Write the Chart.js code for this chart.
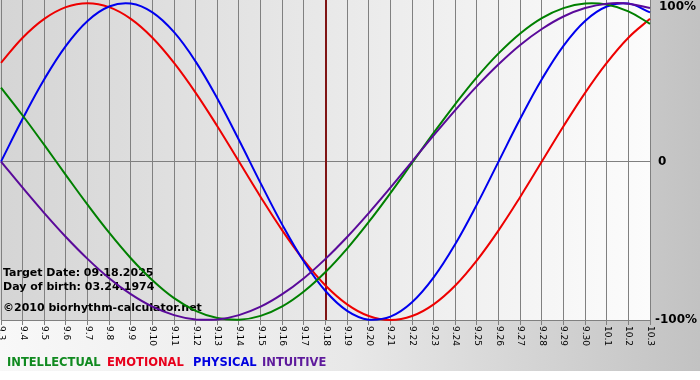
<!DOCTYPE html>
<html>
<head>
<meta charset="utf-8">
<script src="https://cdn.jsdelivr.net/npm/chart.js@4/dist/chart.umd.min.js"></script>
<style>
html,body{margin:0;padding:0;background:#fff;}
#wrap{width:700px;height:380px;}
</style>
</head>
<body>
<div id="wrap"><canvas id="c" width="700" height="380"></canvas></div>
<script>
const days = ['9.3','9.4','9.5','9.6','9.7','9.8','9.9','9.10','9.11','9.12','9.13','9.14','9.15','9.16','9.17','9.18','9.19','9.20','9.21','9.22','9.23','9.24','9.25','9.26','9.27','9.28','9.29','9.30','10.1','10.2','10.3'];
const intellectual = [46.7,29.1,10.5,-8.5,-27.2,-44.9,-61.0,-74.9,-86.2,-94.2,-98.8,-99.9,-97.4,-91.4,-82.0,-69.7,-54.9,-38.1,-19.9,-0.9,18.1,36.3,53.3,68.3,80.9,90.6,96.9,99.8,99.1,94.8,87.0];
const emotional = [62.3,78.2,90.1,97.5,100,97.5,90.1,78.2,62.3,43.4,22.3,0,-22.3,-43.4,-62.3,-78.2,-90.1,-97.5,-100,-97.5,-90.1,-78.2,-62.3,-43.4,-22.3,0,22.3,43.4,62.3,78.2,90.1];
const physical = [0,27.0,52.0,73.1,88.8,97.9,99.8,94.2,81.7,63.1,39.8,13.6,-13.6,-39.8,-63.1,-81.7,-94.2,-99.8,-97.9,-88.8,-73.1,-52.0,-27.0,0,27.0,52.0,73.1,88.8,97.9,99.8,94.2];
const intuitive = [0,-16.5,-32.5,-47.6,-61.4,-73.6,-83.7,-91.6,-96.9,-99.7,-99.7,-96.9,-91.6,-83.7,-73.6,-61.4,-47.6,-32.5,-16.5,0,16.5,32.5,47.6,61.4,73.6,83.7,91.6,96.9,99.7,99.7,96.9];
const yTicks = [100, 0, -100];
const yTickLabels = ['100%', '0', '-100%'];
const targetDay = '9.18';
const infoLines = ['Target Date: 09.18.2025', 'Day of birth: 03.24.1974', '\u00A92010 biorhythm-calculator.net'];
const legendNames = ['INTELLECTUAL', 'EMOTIONAL', 'PHYSICAL', 'INTUITIVE'];

const COLORS = ['#008000', '#ee0000', '#0000ee', '#5a0a9a'];
const LEGEND_COLORS = ['#108a20', '#e8001c', '#0000e0', '#5e1a9c'];
const LEGEND_X = [7, 107, 193, 262];
const GRID = '#808080';

const decor = {
  id: 'decor',
  beforeDraw(chart) {
    const ctx = chart.ctx, a = chart.chartArea;
    ctx.save();
    ctx.fillStyle = '#ffffff';
    ctx.fillRect(0, 0, chart.width, chart.height);
    let g = ctx.createLinearGradient(0, 0, chart.width, 0);
    g.addColorStop(0, '#f8f8f8');
    g.addColorStop(0.5, '#e8e8e8');
    g.addColorStop(1, '#c2c2c2');
    ctx.fillStyle = g;
    ctx.fillRect(0, 0, chart.width, 371);
    g = ctx.createLinearGradient(a.left, 0, a.right, 0);
    g.addColorStop(0, '#d5d5d5');
    g.addColorStop(1, '#fcfcfc');
    ctx.fillStyle = g;
    ctx.fillRect(a.left - 1, a.top, a.right - a.left + 1, a.bottom - a.top);
    ctx.restore();
  },
  beforeDatasetsDraw(chart) {
    const ctx = chart.ctx, a = chart.chartArea, xs = chart.scales.x;
    ctx.save();
    const mx = Math.round(xs.getPixelForValue(days.indexOf(targetDay)));
    ctx.strokeStyle = '#7f1414';
    ctx.lineWidth = 2;
    ctx.beginPath();
    ctx.moveTo(mx, a.top);
    ctx.lineTo(mx, a.bottom);
    ctx.stroke();
    ctx.fillStyle = '#000';
    ctx.font = 'bold 11px "DejaVu Sans"';
    ctx.textAlign = 'left';
    ctx.textBaseline = 'alphabetic';
    const ys = [276, 290, 311];
    infoLines.forEach((t, i) => ctx.fillText(t, 3, ys[i]));
    ctx.restore();
  },
  afterDraw(chart) {
    const ctx = chart.ctx, a = chart.chartArea, xs = chart.scales.x, ysc = chart.scales.y;
    ctx.save();
    ctx.fillStyle = '#000';
    ctx.font = '9px "DejaVu Sans"';
    ctx.textAlign = 'left';
    ctx.textBaseline = 'middle';
    days.forEach((d, i) => {
      const x = xs.getPixelForValue(i);
      ctx.save();
      ctx.translate(Math.round(x) + 0.5, a.bottom + 6);
      ctx.rotate(Math.PI / 2);
      ctx.fillText(d, 0, 0);
      ctx.restore();
    });
    ctx.font = 'bold 12px "DejaVu Sans"';
    ctx.textBaseline = 'middle';
    yTicks.forEach((v, i) => {
      let y = ysc.getPixelForValue(v);
      if (y < 7) y = 7;
      if (y > 322) y = 322;
      const xOff = v === 0 ? 658 : (v < 0 ? 655 : 659);
      ctx.fillText(yTickLabels[i], xOff, y);
    });
    ctx.font = 'bold 11.5px "DejaVu Sans"';
    ctx.textBaseline = 'alphabetic';
    legendNames.forEach((n, i) => {
      ctx.fillStyle = LEGEND_COLORS[i];
      ctx.fillText(n, LEGEND_X[i], 366);
    });
    ctx.restore();
  }
};

const mk = (label, data, color, order) => ({
  label, data, borderColor: color, backgroundColor: color,
  borderWidth: 2, pointRadius: 0, pointHoverRadius: 0,
  tension: 0.4, fill: false, order, clip: false
});

new Chart(document.getElementById('c'), {
  type: 'line',
  data: {
    labels: days,
    datasets: [
      mk(legendNames[0], intellectual, COLORS[0], 1),
      mk(legendNames[1], emotional, COLORS[1], 3),
      mk(legendNames[2], physical, COLORS[2], 2),
      mk(legendNames[3], intuitive, COLORS[3], 0)
    ]
  },
  options: {
    responsive: false,
    animation: false,
    devicePixelRatio: 1,
    events: [],
    layout: { padding: { left: 1, top: 0, right: 0, bottom: 0 } },
    plugins: { legend: { display: false }, tooltip: { enabled: false } },
    scales: {
      x: {
        type: 'category',
        offset: false,
        grid: { color: GRID, lineWidth: 1, drawTicks: true, tickLength: 5, tickColor: GRID },
        border: { display: true, color: GRID },
        ticks: { display: false, autoSkip: false },
        afterFit(s) { s.height = 60; }
      },
      y: {
        position: 'right',
        min: -100,
        max: 102,
        afterBuildTicks(s) { s.ticks = yTicks.map(v => ({ value: v })); },
        grid: {
          color: c => (c.tick && c.tick.value === 0) ? GRID : 'rgba(0,0,0,0)',
          drawTicks: false
        },
        border: { display: false },
        ticks: { display: false },
        afterFit(s) { s.width = 50; }
      }
    }
  },
  plugins: [decor]
});
</script>
</body>
</html>
